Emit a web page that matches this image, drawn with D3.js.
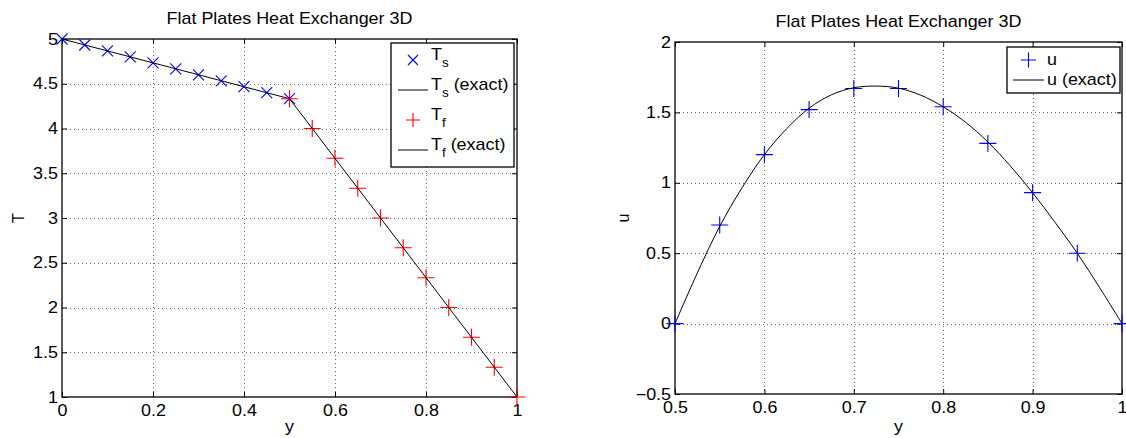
<!DOCTYPE html>
<html><head><meta charset="utf-8">
<script src="https://cdn.jsdelivr.net/npm/d3@7"></script>
<style>
body{margin:0;background:#fff}
svg{display:block}
text{font-family:"Liberation Sans",Arial,Helvetica,sans-serif;fill:#000}
</style>
</head><body>
<svg id="c" width="1126" height="438"></svg>
<script>
// ---------- data ----------
const titleText = "Flat Plates Heat Exchanger 3D";

// left panel: temperatures
const ySolid = [0, 0.05, 0.1, 0.15, 0.2, 0.25, 0.3, 0.35, 0.4, 0.45, 0.5];
const TsValues = [5.0, 4.933, 4.867, 4.8, 4.733, 4.667, 4.6, 4.533, 4.467, 4.4, 4.333];
const yFluid = [0.5, 0.55, 0.6, 0.65, 0.7, 0.75, 0.8, 0.85, 0.9, 0.95, 1.0];
const TfValues = [4.333, 4.0, 3.667, 3.333, 3.0, 2.667, 2.333, 2.0, 1.667, 1.333, 1.0];
const ySolidExact = [0, 0.25, 0.5];
const TsExact = [5.0, 4.667, 4.333];
const yFluidExact = [0.5, 0.75, 1.0];
const TfExact = [4.333, 2.667, 1.0];
const leftXTicks = [0, 0.2, 0.4, 0.6, 0.8, 1];
const leftYTicks = [1, 1.5, 2, 2.5, 3, 3.5, 4, 4.5, 5];
const leftXTickLabels = ["0", "0.2", "0.4", "0.6", "0.8", "1"];
const leftYTickLabels = ["1", "1.5", "2", "2.5", "3", "3.5", "4", "4.5", "5"];

// right panel: velocity
const yU = [0.5, 0.55, 0.6, 0.65, 0.7, 0.75, 0.8, 0.85, 0.9, 0.95, 1.0];
const uValues = [0, 0.70, 1.20, 1.52, 1.67, 1.67, 1.54, 1.28, 0.93, 0.50, 0];
const yUExact = [0.5, 0.525, 0.55, 0.575, 0.6, 0.625, 0.65, 0.675, 0.7, 0.725, 0.75, 0.775, 0.8, 0.825, 0.85, 0.875, 0.9, 0.925, 0.95, 0.975, 1.0];
const uExact = [0, 0.36, 0.69, 0.965, 1.20, 1.385, 1.53, 1.625, 1.675, 1.687, 1.672, 1.622, 1.54, 1.43, 1.29, 1.12, 0.93, 0.72, 0.50, 0.255, 0];
const rightXTicks = [0.5, 0.6, 0.7, 0.8, 0.9, 1];
const rightYTicks = [-0.5, 0, 0.5, 1, 1.5, 2];
const rightXTickLabels = ["0.5", "0.6", "0.7", "0.8", "0.9", "1"];
const rightYTickLabels = ["\u22120.5", "0", "0.5", "1", "1.5", "2"];

// ---------- drawing ----------
const SX = 1.12;          // horizontal text stretch of the original raster
const FS = 16;
const svg = d3.select("#c");

function stretch(sel) {
  sel.each(function () {
    const t = d3.select(this);
    const x = +t.attr("x") || 0;
    t.attr("x", x / SX).attr("transform", `scale(${SX},1)`);
  });
}

function markerPath(type, a) {
  if (type === "x") return `M${-a},${-a}L${a},${a}M${-a},${a}L${a},${-a}`;
  return `M${-a},0H${a}M0,${-a}V${a}`;
}

function panel(cfg) {
  const x = d3.scaleLinear().domain(cfg.xd).range([cfg.x0, cfg.x1]);
  const y = d3.scaleLinear().domain(cfg.yd).range([cfg.y1, cfg.y0]);
  const g = svg.append("g");

  // grid
  const grid = g.append("g").attr("stroke", "#000").attr("stroke-opacity", 0.6)
    .attr("stroke-dasharray", "1,3").attr("stroke-width", 1);
  grid.selectAll("line.gx").data(cfg.xt.slice(1, -1)).join("line")
    .attr("x1", d => Math.round(x(d)) + 0.5).attr("x2", d => Math.round(x(d)) + 0.5)
    .attr("y1", cfg.y0).attr("y2", cfg.y1);
  grid.selectAll("line.gy").data(cfg.yt.slice(1, -1)).join("line")
    .attr("y1", d => Math.round(y(d)) + 0.5).attr("y2", d => Math.round(y(d)) + 0.5)
    .attr("x1", cfg.x0).attr("x2", cfg.x1);

  // axes
  const fmtX = (d, i) => cfg.xl[i], fmtY = (d, i) => cfg.yl[i];
  const ax = g.append("g").attr("transform", `translate(0,${cfg.y1})`)
    .call(d3.axisBottom(x).tickValues(cfg.xt).tickFormat(fmtX).tickSizeInner(-5).tickSizeOuter(0).tickPadding(8));
  const ay = g.append("g").attr("transform", `translate(${cfg.x0},0)`)
    .call(d3.axisLeft(y).tickValues(cfg.yt).tickFormat(fmtY).tickSizeInner(-5).tickSizeOuter(0).tickPadding(4));
  const at = g.append("g").attr("transform", `translate(0,${cfg.y0})`)
    .call(d3.axisTop(x).tickValues(cfg.xt).tickFormat("").tickSizeInner(-5).tickSizeOuter(0));
  const ar = g.append("g").attr("transform", `translate(${cfg.x1},0)`)
    .call(d3.axisRight(y).tickValues(cfg.yt).tickFormat("").tickSizeInner(-5).tickSizeOuter(0));
  [ax, ay, at, ar].forEach(a => {
    a.select(".domain").remove();
    a.attr("font-family", null).attr("font-size", null);
    a.selectAll("text").attr("font-size", FS);
    a.selectAll("line").attr("stroke", "#000");
  });
  stretch(ax.selectAll("text"));
  stretch(ay.selectAll("text"));

  // box
  g.append("rect").attr("x", cfg.x0).attr("y", cfg.y0)
    .attr("width", cfg.x1 - cfg.x0).attr("height", cfg.y1 - cfg.y0)
    .attr("fill", "none").attr("stroke", "#000").attr("stroke-width", 1.3);

  // title and labels
  const tt = g.append("text").attr("x", (cfg.x0 + cfg.x1) / 2).attr("y", cfg.titleY)
    .attr("text-anchor", "middle").attr("font-size", FS).text(titleText);
  stretch(tt);
  const xl = g.append("text").attr("x", (cfg.x0 + cfg.x1) / 2).attr("y", 432)
    .attr("text-anchor", "middle").attr("font-size", FS).text(cfg.xlabel);
  stretch(xl);
  g.append("text").attr("transform", `translate(${cfg.ylabelX},${(cfg.y0 + cfg.y1) / 2}) rotate(-90)`)
    .attr("text-anchor", "middle").attr("font-size", FS).text(cfg.ylabel);

  // series
  cfg.series.forEach(s => {
    const pts = d3.zip(s.xs, s.ys);
    if (s.type === "line") {
      const line = d3.line().x(d => x(d[0])).y(d => y(d[1]))
        .curve(s.smooth ? d3.curveCatmullRom : d3.curveLinear);
      g.append("path").attr("d", line(pts)).attr("fill", "none")
        .attr("stroke", "#000").attr("stroke-width", 1);
    } else {
      g.append("g").selectAll("path").data(pts).join("path")
        .attr("transform", d => `translate(${x(d[0])},${y(d[1])})`)
        .attr("d", markerPath(s.type, s.size)).attr("fill", "none")
        .attr("stroke", s.color).attr("stroke-width", 1.1);
    }
  });

  // legend
  const L = cfg.legend;
  const lg = g.append("g");
  lg.append("rect").attr("x", L.x).attr("y", L.y).attr("width", L.w).attr("height", L.h)
    .attr("fill", "#fff").attr("stroke", "#000").attr("stroke-width", 1.3);
  L.items.forEach((it, i) => {
    const cy = L.firstY + i * L.step;
    if (it.type === "line") {
      lg.append("line").attr("x1", L.lineX0).attr("x2", L.lineX1)
        .attr("y1", cy).attr("y2", cy).attr("stroke", "#000").attr("stroke-width", 1);
    } else {
      lg.append("path").attr("transform", `translate(${(L.lineX0 + L.lineX1) / 2},${cy})`)
        .attr("d", markerPath(it.type, it.size)).attr("fill", "none")
        .attr("stroke", it.color).attr("stroke-width", 1.1);
    }
    const t = lg.append("text").attr("x", L.textX).attr("y", cy + it.base).attr("font-size", FS);
    t.append("tspan").text(it.main);
    if (it.sub) {
      t.append("tspan").attr("dy", 7).attr("font-size", 12).text(it.sub);
      if (it.rest) t.append("tspan").attr("dy", -7).attr("font-size", FS).text(it.rest);
    } else if (it.rest) {
      t.append("tspan").text(it.rest);
    }
    stretch(t);
  });
}

panel({
  x0: 62, x1: 517, y0: 39, y1: 397,
  xd: [0, 1], yd: [1, 5],
  xt: leftXTicks, yt: leftYTicks, xl: leftXTickLabels, yl: leftYTickLabels,
  titleY: 24, xlabel: "y", ylabel: "T", ylabelX: 24,
  series: [
    { type: "x", xs: ySolid, ys: TsValues, color: "#0000ff", size: 5.5 },
    { type: "line", xs: ySolidExact, ys: TsExact },
    { type: "+", xs: yFluid, ys: TfValues, color: "#ff0000", size: 8.5 },
    { type: "line", xs: yFluidExact, ys: TfExact }
  ],
  legend: {
    x: 391, y: 43, w: 123, h: 124, firstY: 60, step: 30,
    lineX0: 398, lineX1: 428, textX: 431,
    items: [
      { type: "x", color: "#0000ff", size: 5, main: "T", sub: "s", base: 0 },
      { type: "line", main: "T", sub: "s", rest: " (exact)", base: 0 },
      { type: "+", color: "#ff0000", size: 7, main: "T", sub: "f", base: 0 },
      { type: "line", main: "T", sub: "f", rest: " (exact)", base: 0 }
    ]
  }
});

panel({
  x0: 675, x1: 1122, y0: 42, y1: 394,
  xd: [0.5, 1], yd: [-0.5, 2],
  xt: rightXTicks, yt: rightYTicks, xl: rightXTickLabels, yl: rightYTickLabels,
  titleY: 27, xlabel: "y", ylabel: "u", ylabelX: 629,
  series: [
    { type: "+", xs: yU, ys: uValues, color: "#0000ff", size: 8.5 },
    { type: "line", xs: yUExact, ys: uExact, smooth: true }
  ],
  legend: {
    x: 1007, y: 47, w: 113, h: 46, firstY: 60, step: 20,
    lineX0: 1013, lineX1: 1044, textX: 1047,
    items: [
      { type: "+", color: "#0000ff", size: 7.5, main: "u", base: 5 },
      { type: "line", main: "u", rest: " (exact)", base: 5 }
    ]
  }
});
</script>
</body></html>
